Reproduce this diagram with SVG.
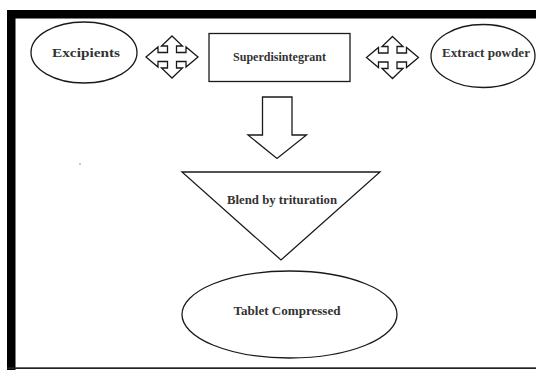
<svg xmlns="http://www.w3.org/2000/svg" width="536" height="370" viewBox="0 0 536 370">
<style>
.shape{fill:#fff;stroke:#1a1a1a;stroke-width:1.3}
.lbl{font-weight:bold;fill:#333;text-anchor:middle}
</style>
<rect x="0" y="0" width="536" height="370" fill="#fff"/>
<g id="frame">
<rect x="7" y="10" width="529" height="8.5" fill="#000"/>
<rect x="7" y="10" width="8.5" height="360" fill="#000"/>
<rect x="7" y="367.3" width="529" height="1.7" fill="#222"/>
</g>
<circle cx="80" cy="164" r="0.8" fill="#888"/>
<g id="excipients">
<ellipse class="shape" cx="84" cy="52.5" rx="53" ry="30.5"/>
<text class="lbl" font-family="'Liberation Serif', 'DejaVu Serif', serif" x="86" y="57" font-size="13.5" textLength="68" lengthAdjust="spacingAndGlyphs">Excipients</text>
</g>
<g id="superdisintegrant">
<rect class="shape" x="209" y="33.5" width="141" height="48"/>
<text class="lbl" font-family="'Liberation Serif', 'DejaVu Serif', serif" x="279.5" y="61" font-size="12" textLength="93" lengthAdjust="spacingAndGlyphs">Superdisintegrant</text>
</g>
<g id="extract">
<ellipse class="shape" cx="483" cy="56" rx="52" ry="31.5"/>
<text class="lbl" font-family="'Liberation Serif', 'DejaVu Serif', serif" x="486" y="57" font-size="13" textLength="88" lengthAdjust="spacingAndGlyphs">Extract powder</text>
</g>
<g id="blend">
<polygon class="shape" points="182,172 380,172 281,260"/>
<text class="lbl" font-family="'Liberation Serif', 'DejaVu Serif', serif" x="282" y="204" font-size="13" textLength="110" lengthAdjust="spacingAndGlyphs">Blend by trituration</text>
</g>
<g id="tablet">
<ellipse class="shape" cx="289.5" cy="314.5" rx="107.5" ry="43.5"/>
<text class="lbl" font-family="'Liberation Serif', 'DejaVu Serif', serif" x="287" y="315" font-size="13" textLength="107" lengthAdjust="spacingAndGlyphs">Tablet Compressed</text>
</g>
<g id="connectors">
<path id="quad1" class="shape" d="M172,36 L182.5,46 L176.5,46 L176.5,52.5 L186,52.5 L186,47 L198,57 L186,67 L186,61.5 L176.5,61.5 L176.5,68 L182.5,68 L172,78 L161.5,68 L167.5,68 L167.5,61.5 L158,61.5 L158,67 L146,57 L158,47 L158,52.5 L167.5,52.5 L167.5,46 L161.5,46 Z"/>
<path id="quad2" class="shape" d="M392.5,36.5 L403,46.5 L397,46.5 L397,53 L406.5,53 L406.5,47.5 L418.5,57.5 L406.5,67.5 L406.5,62 L397,62 L397,68.5 L403,68.5 L392.5,78.5 L382,68.5 L388,68.5 L388,62 L378.5,62 L378.5,67.5 L366.5,57.5 L378.5,47.5 L378.5,53 L388,53 L388,46.5 L382,46.5 Z"/>
<path id="down" class="shape" d="M262.5,97 L292,97 L292,135 L306.5,135 L277,158.5 L248,135 L262.5,135 Z"/>
</g>
</svg>
